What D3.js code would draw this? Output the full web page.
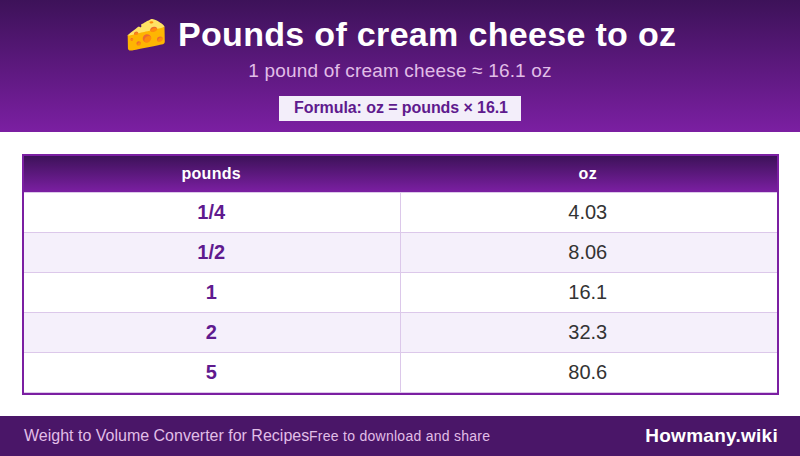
<!DOCTYPE html>
<html>
<head>
<meta charset="utf-8">
<script src="https://cdn.jsdelivr.net/npm/d3@7"></script>
<style>
html, body { margin: 0; padding: 0; background: #fff; }
#wrap { position: relative; width: 800px; height: 456px; overflow: hidden; font-family: "Liberation Sans", Arial, sans-serif; }
svg { display: block; position: absolute; left: 0; top: 0; }
.label { position: absolute; white-space: nowrap; line-height: 1; }
</style>
</head>
<body>
<div id="wrap"><svg id="chart" width="800" height="456"></svg></div>
<script>
var columns = ['pounds', 'oz'];
var pounds = ['1/4', '1/2', '1', '2', '5'];
var oz = ['4.03', '8.06', '16.1', '32.3', '80.6'];

var titleIcon = '🧀';
var titleText = 'Pounds of cream cheese to oz';
var subtitleText = '1 pound of cream cheese ≈ 16.1 oz';
var formulaText = 'Formula: oz = pounds × 16.1';
var footerLeft = 'Weight to Volume Converter for Recipes';
var footerMiddle = 'Free to download and share';
var footerRight = 'Howmany.wiki';

var svg = d3.select('#chart');
var wrap = d3.select('#wrap');

// text goes in html labels, y is the vertical centre of the line
function label(text, x, y, size, weight, color, anchor, spacing) {
    var shift = anchor == 'middle' ? '-50%' : (anchor == 'end' ? '-100%' : '0');
    return wrap.append('div')
        .attr('class', 'label')
        .style('left', x + 'px')
        .style('top', y + 'px')
        .style('font-size', size + 'px')
        .style('font-weight', weight)
        .style('color', color)
        .style('letter-spacing', (spacing || 0) + 'px')
        .style('transform', 'translate(' + shift + ', -50%)')
        .text(text);
}

var defs = svg.append('defs');
var grad = defs.append('linearGradient').attr('id', 'purple').attr('x1', 0).attr('y1', 0).attr('x2', 0).attr('y2', 1);
grad.append('stop').attr('offset', 0).attr('stop-color', '#3d1259');
grad.append('stop').attr('offset', 1).attr('stop-color', '#7b1fa2');

// header band
svg.append('rect').attr('width', 800).attr('height', 132).attr('fill', 'url(#purple)');

label(titleIcon, 125, 34, 34, 700, '#fff', 'start');
label(titleText, 178, 34, 34, 700, '#fff', 'start', 0.32);
label(subtitleText, 400, 70, 19, 400, '#e1bee7', 'middle', 0.17);

svg.append('rect').attr('x', 279).attr('y', 96).attr('width', 242).attr('height', 25).attr('fill', '#f3eefa');
label(formulaText, 401, 108, 16, 700, '#5f1a8e', 'middle', -0.08);

// table
var x = d3.scaleBand().domain(columns).range([24, 777]);
var y = d3.scaleBand().domain(pounds).range([193, 393]);

svg.append('rect').attr('x', 24).attr('y', 156).attr('width', 753).attr('height', 36).attr('fill', 'url(#purple)');

columns.forEach(function (d) {
    label(d, x(d) + x.bandwidth() / 2 - 1, 174, 16, 700, '#fff', 'middle', 0.3);
});

svg.selectAll('.row').data(pounds).enter().append('rect')
    .attr('class', 'row')
    .attr('x', 24).attr('width', 753)
    .attr('y', function (d) { return y(d); })
    .attr('height', y.bandwidth())
    .attr('fill', function (d, i) { return i % 2 ? '#f5f0fb' : '#fff'; });

svg.selectAll('.rowline').data(pounds).enter().append('line')
    .attr('class', 'rowline')
    .attr('x1', 24).attr('x2', 777)
    .attr('y1', function (d) { return y(d) - 0.5; })
    .attr('y2', function (d) { return y(d) - 0.5; })
    .attr('stroke', '#dcc8ea');

svg.append('line').attr('x1', 24).attr('x2', 777).attr('y1', 392.5).attr('y2', 392.5).attr('stroke', '#dcc8ea');
svg.append('line').attr('x1', 400.5).attr('x2', 400.5).attr('y1', 192).attr('y2', 393).attr('stroke', '#dcc8ea');

pounds.forEach(function (d, i) {
    label(d, x('pounds') + x.bandwidth() / 2 - 1, y(d) + 19, 20, 700, '#5f1a8e', 'middle');
    label(oz[i], x('oz') + x.bandwidth() / 2 - 1, y(d) + 19, 20, 400, '#333', 'middle');
});

svg.append('rect').attr('x', 23).attr('y', 155).attr('width', 755).attr('height', 239)
    .attr('fill', 'none').attr('stroke', '#7b1fa2').attr('stroke-width', 2);

// footer
svg.append('rect').attr('y', 416).attr('width', 800).attr('height', 40).attr('fill', '#4a1668');
label(footerLeft, 24, 436, 16, 400, '#e1bee7', 'start');
label(footerMiddle, 309, 436, 14, 400, '#e1bee7', 'start', 0.27);
label(footerRight, 778, 435, 19, 700, '#fff', 'end', 0.27);
</script>
</body>
</html>
